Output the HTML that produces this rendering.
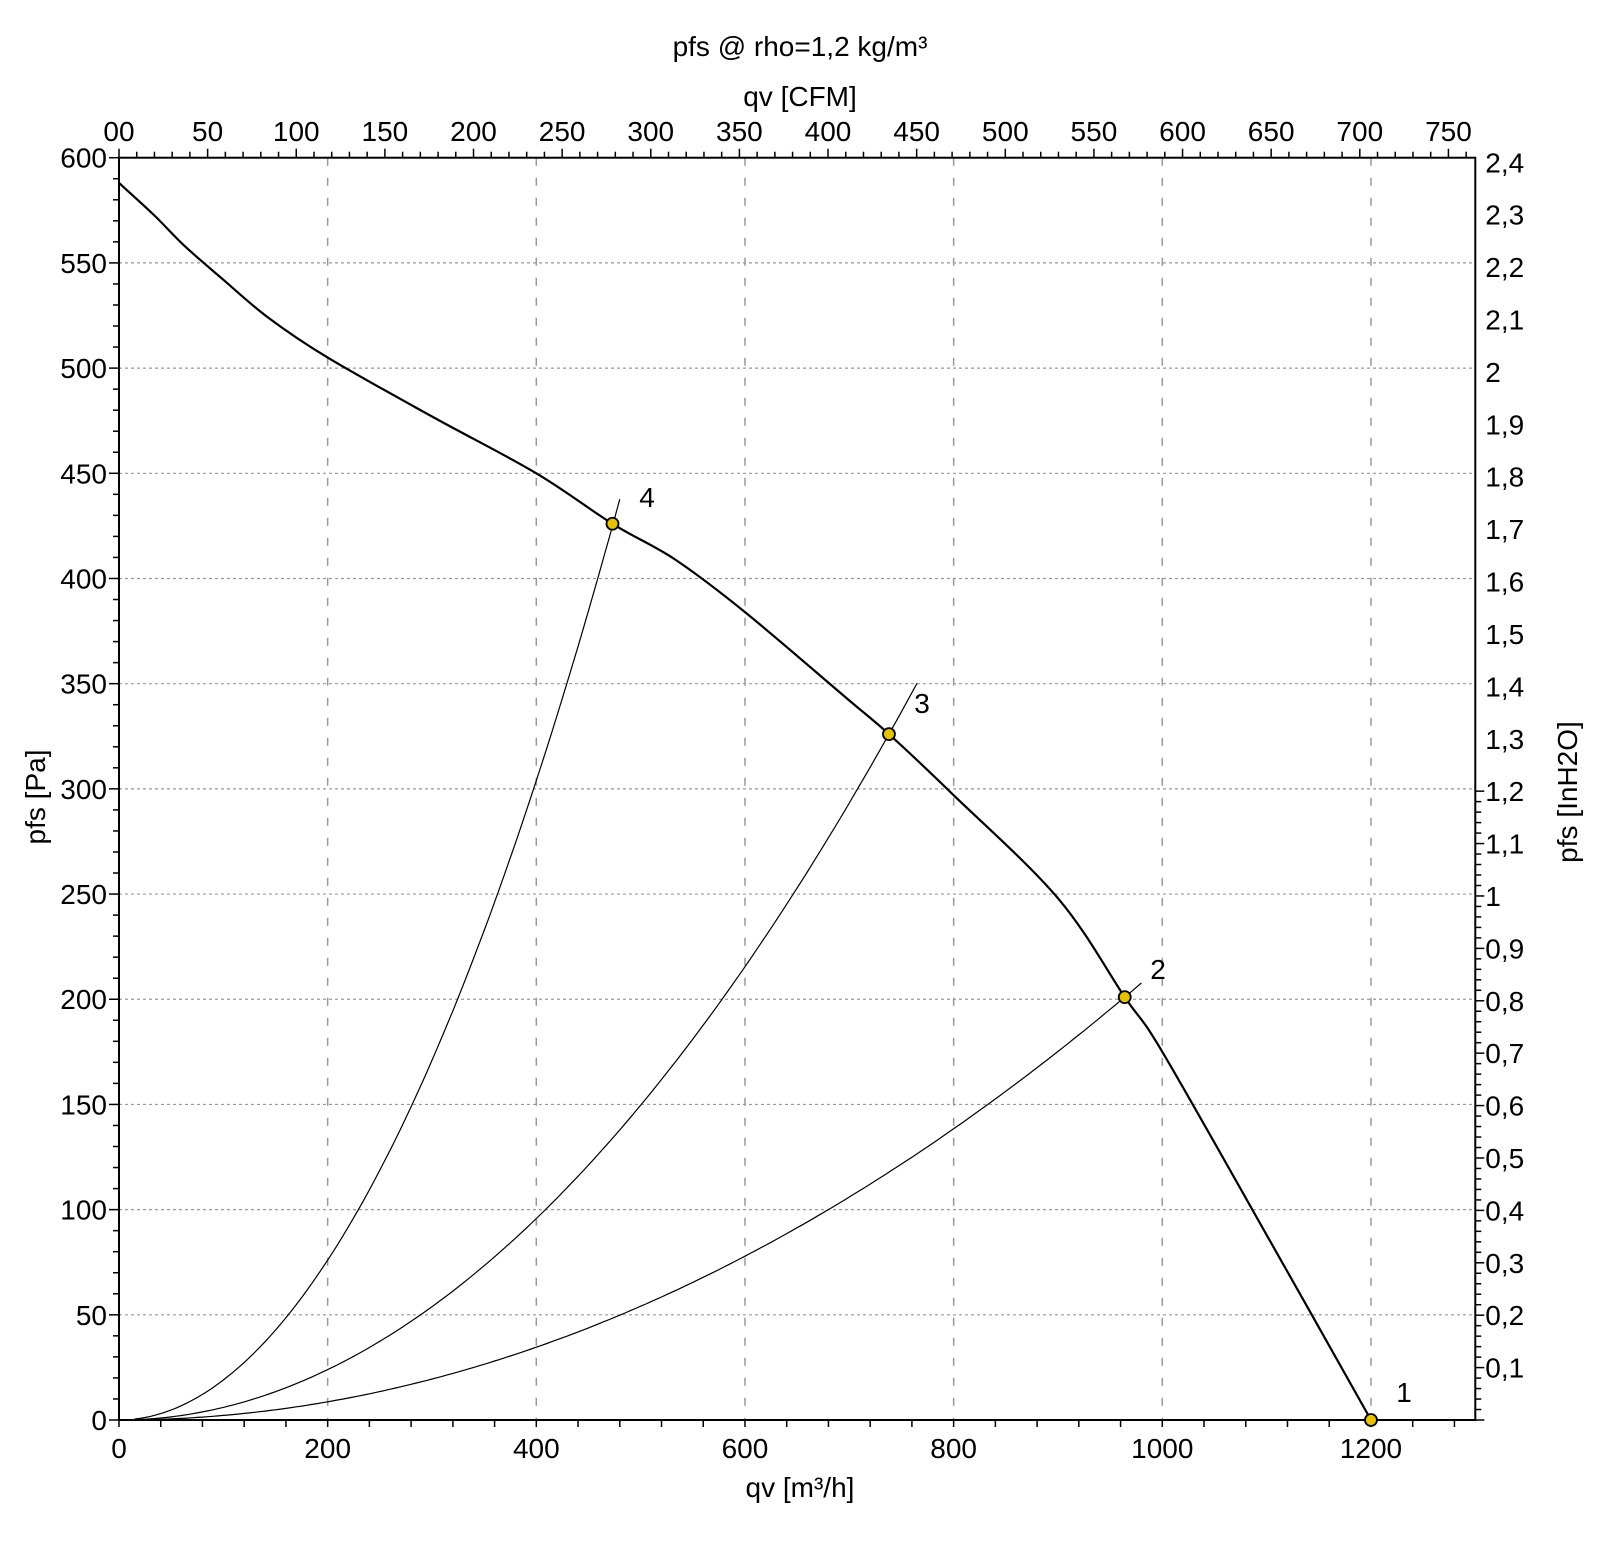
<!DOCTYPE html>
<html><head><meta charset="utf-8"><style>
html,body{margin:0;padding:0;background:#fff;}
svg{display:block;font-family:"Liberation Sans",Arial,sans-serif;}
</style></head><body>
<svg id="s" width="1600" height="1544" viewBox="0 0 1600 1544" xmlns="http://www.w3.org/2000/svg"></svg>
<script>
const X=q=>119+q*1.0433, Y=p=>1420-p*2.1038;
const FS=28;
let h='';
const L=(x1,y1,x2,y2,st)=>h+=`<line x1="${x1}" y1="${y1}" x2="${x2}" y2="${y2}" ${st}/>`;
const T=(x,y,t,a,fs,extra)=>h+=`<text x="${x}" y="${y}" text-anchor="${a||'middle'}" font-size="${fs||FS}" ${extra||''}>${t}</text>`;
for(let q=200;q<=1200;q+=200)L(X(q),Y(600),X(q),Y(0),'stroke="#999" stroke-width="1.5" stroke-dasharray="8,12"');
for(let p=50;p<600;p+=50)L(X(0),Y(p),X(1300),Y(p),'stroke="#999" stroke-width="1.2" stroke-dasharray="3,3"');
for(let p=0;p<=600;p+=10){const m=p%50==0;L(X(0)-(m?10:6),Y(p),X(0),Y(p),'stroke="#000" stroke-width="1.5"');}
for(let p=0;p<=600;p+=50)T(X(0)-12,Y(p)+10,p,'end');
for(let q=0;q<=1300;q+=40)L(X(q),Y(0),X(q),Y(0)+7,'stroke="#000" stroke-width="1.5"');
for(let q=0;q<=1200;q+=200)T(X(q),1458,q);
const C=1.699;
for(let c=0;c*C<=1300;c+=10)L(X(c*C),Y(600),X(c*C),Y(600)-(c%50==0?9:6),'stroke="#000" stroke-width="1.5"');
for(let c=0;c<=750;c+=50)T(X(c*C),141,c==0?'00':c);
const W=249.09;
for(let i=0;i<=120;i+=2){const p=i/100*W;if(p>600.5)break;L(X(1300),Y(p),X(1300)+(i%10==0?9:6),Y(p),'stroke="#000" stroke-width="1.5"');}
for(let i=1;i<=24;i++){const p=i/10*W;let t=(i/10).toFixed(1).replace('.',',');if(i==10)t='1';if(i==20)t='2';T(X(1300)+10,Y(p)+10,t,'start');}
h+=`<rect x="${X(0)}" y="${Y(600)}" width="${X(1300)-X(0)}" height="${Y(0)-Y(600)}" fill="none" stroke="#000" stroke-width="2"/>`;
function sys(k,qmax){let d='';for(let q=15;q<=qmax;q+=5){d+=(d?'L':'M')+X(q).toFixed(1)+','+Y(k*q*q).toFixed(1);}h+=`<path d="${d}" fill="none" stroke="#000" stroke-width="1.2"/>`;}
sys(425/473/473,483);sys(326/738/738,768);sys(201/964/964,983);
const pts=[[0,588],[33,573],[63,558],[100,542],[143,524],[200,505],[300,477],[400,450],[473,426],[533,409],[600,384],[700,342],[738,326],[800,297],[900,248],[964,201],[1000,175],[1100,88],[1200,0]].map(p=>[X(p[0]),Y(p[1])]);
let d='M'+pts[0][0]+','+pts[0][1];
for(let i=0;i<pts.length-1;i++){const p0=pts[Math.max(0,i-1)],p1=pts[i],p2=pts[i+1],p3=pts[Math.min(pts.length-1,i+2)];
const c1=[p1[0]+(p2[0]-p0[0])/6,p1[1]+(p2[1]-p0[1])/6],c2=[p2[0]-(p3[0]-p1[0])/6,p2[1]-(p3[1]-p1[1])/6];
d+=`C${c1[0].toFixed(1)},${c1[1].toFixed(1)} ${c2[0].toFixed(1)},${c2[1].toFixed(1)} ${p2[0].toFixed(1)},${p2[1].toFixed(1)}`;}
h+=`<path d="${d}" fill="none" stroke="#000" stroke-width="2.2" stroke-linejoin="round"/>`;
[[473,426],[738,326],[964,201],[1200,0]].forEach(([q,p])=>{
 h+=`<circle cx="${X(q)}" cy="${Y(p)}" r="6" fill="#e6c200" stroke="#000" stroke-width="1.8"/>`;
});
T(647,507,'4');T(922,713,'3');T(1158,979,'2');T(1404,1402,'1');
T(800,56,'pfs @ rho=1,2 kg/m³');
T(800,106,'qv [CFM]');
T(800,1497,'qv [m³/h]');
h+=`<text x="45" y="797" text-anchor="middle" font-size="${FS}" transform="rotate(-90 45 797)">pfs [Pa]</text>`;
h+=`<text x="1577" y="792" text-anchor="middle" font-size="${FS}" transform="rotate(-90 1577 792)">pfs [InH2O]</text>`;
document.getElementById('s').innerHTML=h;
</script>
</body></html>
